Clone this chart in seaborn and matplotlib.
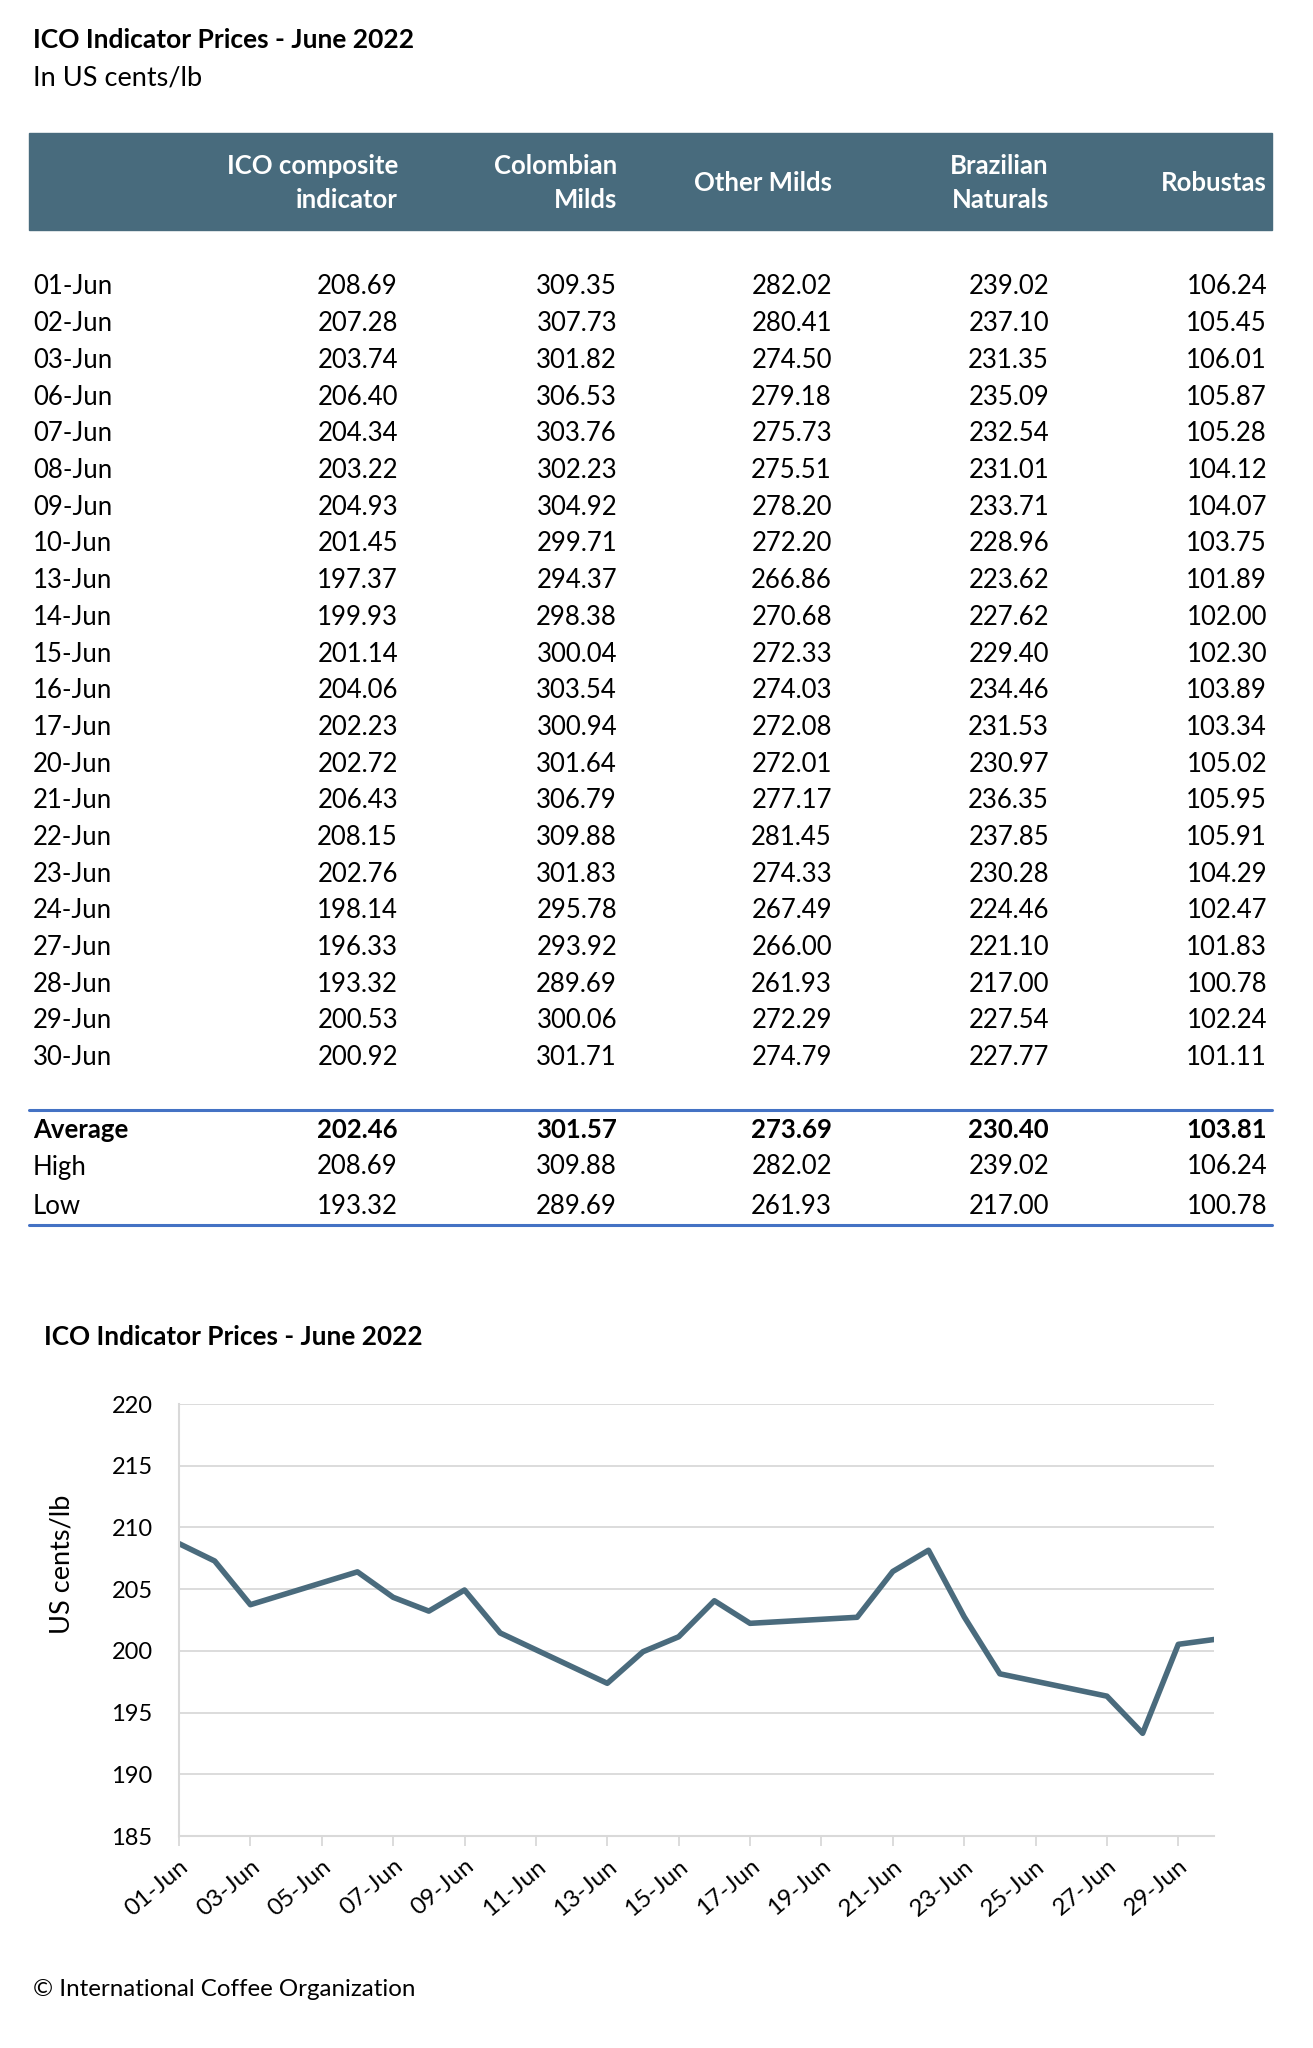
import numpy as np
import pandas as pd
import seaborn as sns
import matplotlib
matplotlib.use('Agg')
from matplotlib import pyplot as plt
import matplotlib.dates as mdates
from matplotlib.patches import Rectangle

# data
dates = ['01-Jun', '02-Jun', '03-Jun', '06-Jun', '07-Jun', '08-Jun', '09-Jun', '10-Jun', '13-Jun', '14-Jun',
         '15-Jun', '16-Jun', '17-Jun', '20-Jun', '21-Jun', '22-Jun', '23-Jun', '24-Jun', '27-Jun', '28-Jun',
         '29-Jun', '30-Jun']
ico_composite = [208.69, 207.28, 203.74, 206.40, 204.34, 203.22, 204.93, 201.45, 197.37, 199.93, 201.14,
                 204.06, 202.23, 202.72, 206.43, 208.15, 202.76, 198.14, 196.33, 193.32, 200.53, 200.92]
colombian_milds = [309.35, 307.73, 301.82, 306.53, 303.76, 302.23, 304.92, 299.71, 294.37, 298.38, 300.04,
                   303.54, 300.94, 301.64, 306.79, 309.88, 301.83, 295.78, 293.92, 289.69, 300.06, 301.71]
other_milds = [282.02, 280.41, 274.50, 279.18, 275.73, 275.51, 278.20, 272.20, 266.86, 270.68, 272.33,
               274.03, 272.08, 272.01, 277.17, 281.45, 274.33, 267.49, 266.00, 261.93, 272.29, 274.79]
brazilian_naturals = [239.02, 237.10, 231.35, 235.09, 232.54, 231.01, 233.71, 228.96, 223.62, 227.62, 229.40,
                      234.46, 231.53, 230.97, 236.35, 237.85, 230.28, 224.46, 221.10, 217.00, 227.54, 227.77]
robustas = [106.24, 105.45, 106.01, 105.87, 105.28, 104.12, 104.07, 103.75, 101.89, 102.00, 102.30,
            103.89, 103.34, 105.02, 105.95, 105.91, 104.29, 102.47, 101.83, 100.78, 102.24, 101.11]

headers = ['ICO composite\nindicator', 'Colombian\nMilds', 'Other Milds', 'Brazilian\nNaturals', 'Robustas']
summary_labels = ['Average', 'High', 'Low']
averages = [202.46, 301.57, 273.69, 230.40, 103.81]
highs = [208.69, 309.88, 282.02, 239.02, 106.24]
lows = [193.32, 289.69, 261.93, 217.00, 100.78]

y_ticks = [185, 190, 195, 200, 205, 210, 215, 220]

W, H = 1313, 2048
HEADER_COLOR = '#486b7d'
LINE_COLOR = '#4a6b7d'
RULE_COLOR = '#4472c4'
TEXT_SIZE = 18.5

sns.set_theme(style='white')
plt.rcParams['font.family'] = ['Lato', 'DejaVu Sans']
plt.rcParams['text.color'] = 'black'


def fx(px):
    return px / W


def fy(py):
    return 1 - py / H


fig = plt.figure(figsize=(W / 100, H / 100), dpi=100)

# titles
fig.text(fx(33), fy(40), 'ICO Indicator Prices - June 2022', fontsize=19, fontweight='bold',
         va='center', ha='left')
fig.text(fx(33), fy(78), 'In US cents/lb', fontsize=19.5, va='center', ha='left')

# table header band
fig.patches.append(Rectangle((fx(29), fy(230)), fx(1272) - fx(29), fy(133) - fy(230),
                             transform=fig.transFigure, color=HEADER_COLOR, zorder=0))
col_right = [398, 617, 832, 1049, 1267]
for x, h in zip(col_right, headers):
    fig.text(fx(x), fy(183), h, color='white', fontsize=TEXT_SIZE, fontweight='bold', ha='right',
             va='center', linespacing=1.5)

columns = [ico_composite, colombian_milds, other_milds, brazilian_naturals, robustas]
for i, d in enumerate(dates):
    y = 287 + i * 36.7
    fig.text(fx(33), fy(y), d, fontsize=TEXT_SIZE, ha='left', va='center')
    for x, col in zip(col_right, columns):
        fig.text(fx(x), fy(y), f'{col[i]:.2f}', fontsize=TEXT_SIZE, ha='right', va='center')

# summary rows
for y_px in (1110, 1225):
    fig.add_artist(plt.Line2D([fx(29), fx(1272)], [fy(y_px), fy(y_px)], color=RULE_COLOR, linewidth=2.2,
                              transform=fig.transFigure))
summary = [averages, highs, lows]
for lab, vals, y in zip(summary_labels, summary, [1130, 1167, 1206]):
    weight = 'bold' if lab == 'Average' else 'normal'
    fig.text(fx(33), fy(y), lab, fontsize=TEXT_SIZE, fontweight=weight, ha='left', va='center')
    for x, v in zip(col_right, vals):
        fig.text(fx(x), fy(y), f'{v:.2f}', fontsize=TEXT_SIZE, fontweight=weight, ha='right', va='center')

# line chart
df = pd.DataFrame({'date': pd.to_datetime([f'2022-06-{d[:2]}' for d in dates]), 'price': ico_composite})
ax = fig.add_axes([fx(179), fy(1836), fx(1214) - fx(179), fy(1404) - fy(1836)])
sns.lineplot(data=df, x='date', y='price', ax=ax, color=LINE_COLOR, linewidth=4)
ax.set_ylim(185, 220)
ax.set_yticks(y_ticks)
ax.set_xlim(pd.Timestamp('2022-06-01'), pd.Timestamp('2022-06-30'))
ax.xaxis.set_major_locator(mdates.DayLocator(bymonthday=range(1, 31, 2)))
ax.xaxis.set_major_formatter(mdates.DateFormatter('%d-%b'))
ax.grid(axis='y', color='#d9d9d9', linewidth=1.3)
ax.set_axisbelow(True)
for s in ['top', 'right']:
    ax.spines[s].set_visible(False)
for s in ['left', 'bottom']:
    ax.spines[s].set_color('#d9d9d9')
    ax.spines[s].set_linewidth(1.5)
ax.tick_params(axis='x', bottom=True, length=7, width=1.3, color='#d9d9d9', pad=7, labelsize=17.5,
               labelcolor='black')
ax.tick_params(axis='y', left=False, pad=13, labelsize=17, labelcolor='black')
for lab in ax.get_xticklabels():
    lab.set_rotation(40)
    lab.set_ha('right')
    lab.set_rotation_mode('anchor')
ax.set_xlabel('')
ax.set_ylabel('')
fig.text(fx(62), fy(1564), 'US cents/lb', rotation=90, fontsize=19.5, ha='center', va='center')
fig.text(fx(44), fy(1337), 'ICO Indicator Prices - June 2022', fontsize=18.8, fontweight='bold',
         ha='left', va='center')

fig.text(fx(33), fy(1989), '\u00a9 International Coffee Organization', fontsize=17.4, ha='left', va='center')

fig.savefig('out.png', dpi=100)
